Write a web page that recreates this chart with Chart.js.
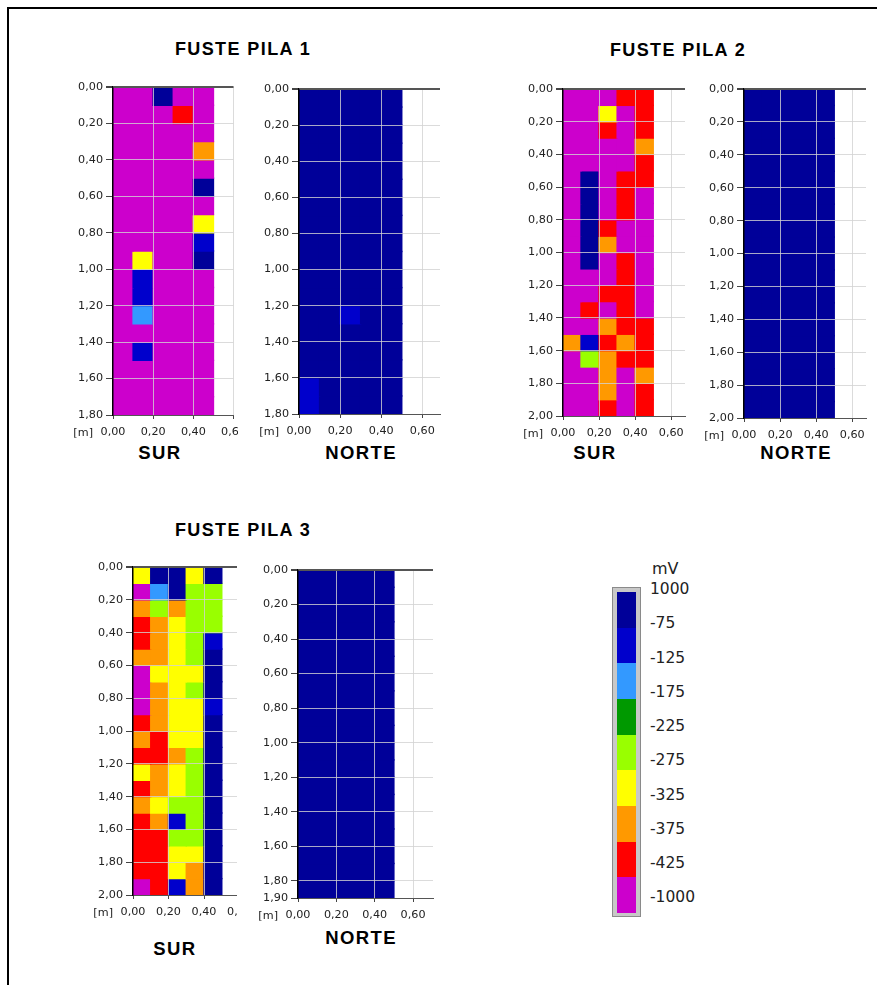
<!DOCTYPE html>
<html>
<head>
<meta charset="utf-8">
<script src="https://cdn.jsdelivr.net/npm/chart.js@4.4.1/dist/chart.umd.min.js"></script>
<style>
  body { margin: 0; width: 877px; height: 985px; overflow: hidden; position: relative; background: #fff;
         font-family: "Liberation Sans", Arial, sans-serif; }
  #frame { position: absolute; left: 7px; top: 7px; width: 950px; height: 1050px;
           border-left: 2px solid #000; border-top: 2px solid #000; }
  canvas { position: absolute; background: #fff; }
  .ttl { position: absolute; transform: translate(-50%, -50%); font-weight: bold; line-height: 1;
         white-space: nowrap; color: #000; }
  .big { font-size: 18px; letter-spacing: 1.4px; }
  .side { font-size: 18.5px; letter-spacing: 1.4px; }
  #bar { position: absolute; left: 612px; top: 587px; width: 27px; height: 328px;
         background: #c8c8c8; border: 1px solid #8a8a8a; }
  .seg { position: absolute; left: 4px; width: 19px; }
  .lg { position: absolute; left: 650px; transform: translateY(-50%); font-family: "DejaVu Sans", sans-serif;
        font-size: 15.5px; line-height: 1; color: #222; }
</style>
</head>
<body>
<div id="frame"></div>

<div class="ttl big" style="left:243px;top:49px">FUSTE PILA 1</div>
<div class="ttl big" style="left:678px;top:50px">FUSTE PILA 2</div>
<div class="ttl big" style="left:243px;top:530px">FUSTE PILA 3</div>

<div class="ttl side" style="left:160px;top:453px">SUR</div>
<div class="ttl side" style="left:361px;top:453px">NORTE</div>
<div class="ttl side" style="left:595px;top:453px">SUR</div>
<div class="ttl side" style="left:796px;top:453px">NORTE</div>
<div class="ttl side" style="left:175px;top:949px">SUR</div>
<div class="ttl side" style="left:361px;top:938px">NORTE</div>

<div id="bar"></div>

<script>
// --- DATA: potential classes (mV), legend from top to bottom ---
const classEdges = [1000, -75, -125, -175, -225, -275, -325, -375, -425, -1000];
const classColors = ['#000099', '#0000CC', '#3399FF', '#009900', '#99FF00', '#FFFF00', '#FF9900', '#FF0000', '#CC00CC'];

// cell centres across the shaft (m) and cell height (m)
const columnCenters = [0.05, 0.15, 0.25, 0.35, 0.45];
const cellHeight = 0.1;

// tick labels
const widthTicks = [0, 0.2, 0.4, 0.6];
const depthTicks18 = [0, 0.2, 0.4, 0.6, 0.8, 1.0, 1.2, 1.4, 1.6, 1.8];
const depthTicks19 = [0, 0.2, 0.4, 0.6, 0.8, 1.0, 1.2, 1.4, 1.6, 1.8, 1.9];
const depthTicks20 = [0, 0.2, 0.4, 0.6, 0.8, 1.0, 1.2, 1.4, 1.6, 1.8, 2.0];

// readings per 0.10 m row (mV), estimated from the colour class of each cell
const pila1Sur = [
  [-450, -450, -50, -450, -450],
  [-450, -450, -450, -400, -450],
  [-450, -450, -450, -450, -450],
  [-450, -450, -450, -450, -350],
  [-450, -450, -450, -450, -450],
  [-450, -450, -450, -450, -50],
  [-450, -450, -450, -450, -450],
  [-450, -450, -450, -450, -300],
  [-450, -450, -450, -450, -100],
  [-450, -300, -450, -450, -50],
  [-450, -100, -450, -450, -450],
  [-450, -100, -450, -450, -450],
  [-450, -150, -450, -450, -450],
  [-450, -450, -450, -450, -450],
  [-450, -100, -450, -450, -450],
  [-450, -450, -450, -450, -450],
  [-450, -450, -450, -450, -450],
  [-450, -450, -450, -450, -450]
];
const pila1Norte = [
  [-50, -50, -50, -50, -50],
  [-50, -50, -50, -50, -50],
  [-50, -50, -50, -50, -50],
  [-50, -50, -50, -50, -50],
  [-50, -50, -50, -50, -50],
  [-50, -50, -50, -50, -50],
  [-50, -50, -50, -50, -50],
  [-50, -50, -50, -50, -50],
  [-50, -50, -50, -50, -50],
  [-50, -50, -50, -50, -50],
  [-50, -50, -50, -50, -50],
  [-50, -50, -50, -50, -50],
  [-50, -50, -100, -50, -50],
  [-50, -50, -50, -50, -50],
  [-50, -50, -50, -50, -50],
  [-50, -50, -50, -50, -50],
  [-100, -50, -50, -50, -50],
  [-100, -50, -50, -50, -50]
];
const pila2Sur = [
  [-450, -450, -450, -400, -400],
  [-450, -450, -300, -450, -400],
  [-450, -450, -400, -450, -400],
  [-450, -450, -450, -450, -350],
  [-450, -450, -450, -450, -400],
  [-450, -50, -450, -400, -400],
  [-450, -50, -450, -400, -450],
  [-450, -50, -450, -400, -450],
  [-450, -50, -400, -450, -450],
  [-450, -50, -350, -450, -450],
  [-450, -50, -450, -400, -450],
  [-450, -450, -450, -400, -450],
  [-450, -450, -400, -400, -450],
  [-450, -400, -450, -400, -450],
  [-450, -450, -350, -400, -400],
  [-350, -100, -400, -350, -400],
  [-450, -250, -350, -400, -400],
  [-450, -450, -350, -450, -350],
  [-450, -450, -350, -450, -400],
  [-450, -450, -400, -450, -400]
];
const pila2Norte = [
  [-50, -50, -50, -50, -50],
  [-50, -50, -50, -50, -50],
  [-50, -50, -50, -50, -50],
  [-50, -50, -50, -50, -50],
  [-50, -50, -50, -50, -50],
  [-50, -50, -50, -50, -50],
  [-50, -50, -50, -50, -50],
  [-50, -50, -50, -50, -50],
  [-50, -50, -50, -50, -50],
  [-50, -50, -50, -50, -50],
  [-50, -50, -50, -50, -50],
  [-50, -50, -50, -50, -50],
  [-50, -50, -50, -50, -50],
  [-50, -50, -50, -50, -50],
  [-50, -50, -50, -50, -50],
  [-50, -50, -50, -50, -50],
  [-50, -50, -50, -50, -50],
  [-50, -50, -50, -50, -50],
  [-50, -50, -50, -50, -50],
  [-50, -50, -50, -50, -50]
];
const pila3Sur = [
  [-300, -50, -50, -300, -50],
  [-450, -150, -50, -250, -250],
  [-350, -250, -350, -250, -250],
  [-400, -350, -300, -250, -250],
  [-400, -350, -300, -250, -100],
  [-350, -350, -300, -250, -50],
  [-450, -300, -300, -300, -50],
  [-450, -350, -300, -250, -50],
  [-450, -350, -300, -300, -100],
  [-400, -350, -300, -300, -50],
  [-350, -400, -300, -300, -50],
  [-400, -400, -350, -250, -50],
  [-300, -350, -300, -250, -50],
  [-400, -350, -300, -250, -50],
  [-350, -300, -250, -250, -50],
  [-400, -350, -100, -250, -50],
  [-400, -400, -250, -250, -50],
  [-400, -400, -300, -300, -50],
  [-400, -400, -300, -350, -50],
  [-450, -400, -100, -350, -50]
];
const pila3Norte = [
  [-50, -50, -50, -50, -50],
  [-50, -50, -50, -50, -50],
  [-50, -50, -50, -50, -50],
  [-50, -50, -50, -50, -50],
  [-50, -50, -50, -50, -50],
  [-50, -50, -50, -50, -50],
  [-50, -50, -50, -50, -50],
  [-50, -50, -50, -50, -50],
  [-50, -50, -50, -50, -50],
  [-50, -50, -50, -50, -50],
  [-50, -50, -50, -50, -50],
  [-50, -50, -50, -50, -50],
  [-50, -50, -50, -50, -50],
  [-50, -50, -50, -50, -50],
  [-50, -50, -50, -50, -50],
  [-50, -50, -50, -50, -50],
  [-50, -50, -50, -50, -50],
  [-50, -50, -50, -50, -50],
  [-50, -50, -50, -50, -50]
];

// --- LAYOUT: plot area of each panel on the page ---
const panels = [
  { rows: pila1Sur,   l: 113, t: 87,  r: 236, b: 415, yW: 48, xMax: 0.6,   yMax: 1.8, yTicks: depthTicks18 },
  { rows: pila1Norte, l: 299, t: 89,  r: 440, b: 414, yW: 61, xMax: 0.686, yMax: 1.8, yTicks: depthTicks18 },
  { rows: pila2Sur,   l: 563, t: 89,  r: 685, b: 416, yW: 48, xMax: 0.676, yMax: 2.0, yTicks: depthTicks20 },
  { rows: pila2Norte, l: 744, t: 89,  r: 866, b: 418, yW: 48, xMax: 0.676, yMax: 2.0, yTicks: depthTicks20 },
  { rows: pila3Sur,   l: 133, t: 567, r: 242, b: 895, yW: 48, xMax: 0.6,   yMax: 2.0, yTicks: depthTicks20 },
  { rows: pila3Norte, l: 298, t: 570, r: 433, b: 898, yW: 61, xMax: 0.704, yMax: 1.9, yTicks: depthTicks19 }
];
const PAD_TOP = 10, PAD_RIGHT = 16, X_AXIS_H = 28;
const TICK_FONT = { family: 'DejaVu Sans', size: 11.2 };
const TEXT_COLOR = '#222';
const GRID_COLOR = 'rgba(210,210,210,0.8)';

function colorFor(v) {
  for (let i = 0; i < classColors.length; i++) {
    if (v > classEdges[i + 1]) return classColors[i];
  }
  return classColors[classColors.length - 1];
}

const fmt = v => v.toFixed(2).replace('.', ',');

// "[m]" unit label left of the x tick labels
const unitLabel = {
  id: 'unitLabel',
  afterDraw(chart) {
    const { ctx, chartArea } = chart;
    ctx.save();
    ctx.font = '11.2px "DejaVu Sans"';
    ctx.fillStyle = TEXT_COLOR;
    ctx.textAlign = 'right';
    ctx.textBaseline = 'middle';
    ctx.fillText('[m]', chartArea.left - 20, chartArea.bottom + 18);
    ctx.restore();
  }
};

panels.forEach(p => {
  const cv = document.createElement('canvas');
  const W = (p.r - p.l) + p.yW + PAD_RIGHT;
  const H = (p.b - p.t) + PAD_TOP + X_AXIS_H;
  cv.width = W; cv.height = H;
  cv.style.left = (p.l - p.yW) + 'px';
  cv.style.top = (p.t - PAD_TOP) + 'px';
  cv.style.width = W + 'px';
  cv.style.height = H + 'px';
  document.body.appendChild(cv);

  new Chart(cv, {
    type: 'bar',
    data: {
      datasets: p.rows.map((row, r) => ({
        data: row.map((v, c) => ({ x: columnCenters[c], y: [r * cellHeight, (r + 1) * cellHeight] })),
        backgroundColor: row.map(colorFor),
        borderWidth: 0,
        inflateAmount: 0.7,
        barPercentage: 1,
        categoryPercentage: 1,
        grouped: false
      }))
    },
    options: {
      responsive: false,
      animation: false,
      events: [],
      layout: { padding: { left: 0, top: PAD_TOP, right: PAD_RIGHT, bottom: 0 } },
      plugins: { legend: { display: false }, tooltip: { enabled: false } },
      scales: {
        x: {
          type: 'linear', min: 0, max: p.xMax, offset: false,
          afterBuildTicks: s => { s.ticks = widthTicks.filter(v => v <= p.xMax + 1e-9).map(v => ({ value: v })); },
          afterFit: s => { s.height = X_AXIS_H; },
          grid: {
            z: 1, offset: false,
            color: c => (c.tick && c.tick.value === 0) ? 'rgba(0,0,0,0)' : GRID_COLOR,
            tickColor: '#444', tickLength: 4
          },
          border: { z: 2, color: '#555', width: 1 },
          ticks: { font: TICK_FONT, color: TEXT_COLOR, padding: 6, maxRotation: 0, autoSkip: false,
                   callback: v => fmt(v) }
        },
        y: {
          type: 'linear', min: 0, max: p.yMax, reverse: true, stacked: false,
          afterBuildTicks: s => { s.ticks = p.yTicks.map(v => ({ value: v })); },
          afterFit: s => { s.width = p.yW; },
          grid: {
            z: 1,
            color: c => (c.tick && c.tick.value === 0) ? '#555' : GRID_COLOR,
            lineWidth: c => (c.tick && c.tick.value === 0) ? 2 : 1,
            tickColor: '#444', tickLength: 7
          },
          border: { z: 2, color: '#000', width: 1.5 },
          ticks: { font: TICK_FONT, color: TEXT_COLOR, padding: 3, autoSkip: false,
                   callback: v => fmt(v) }
        }
      }
    },
    plugins: [unitLabel]
  });
});

// --- colour bar legend ---
const bar = document.getElementById('bar');
const segH = 321 / classColors.length;
classColors.forEach((col, i) => {
  const s = document.createElement('div');
  s.className = 'seg';
  s.style.top = (4 + i * segH) + 'px';
  s.style.height = (segH + 0.5) + 'px';
  s.style.background = col;
  bar.appendChild(s);
});
const unit = document.createElement('div');
unit.className = 'lg';
unit.style.left = '652px';
unit.style.top = '569px';
unit.style.fontSize = '16px';
unit.textContent = 'mV';
document.body.appendChild(unit);
classEdges.forEach((v, i) => {
  const d = document.createElement('div');
  d.className = 'lg';
  d.style.top = (590 + i * 34.25) + 'px';
  d.textContent = String(v);
  document.body.appendChild(d);
});
</script>
</body>
</html>
